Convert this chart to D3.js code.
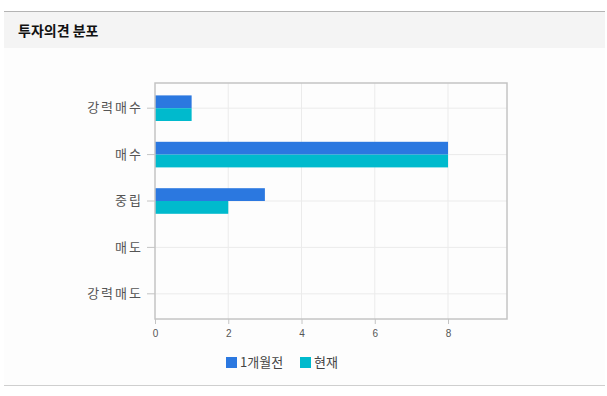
<!DOCTYPE html>
<html>
<head>
<meta charset="utf-8">
<script src="https://cdn.jsdelivr.net/npm/d3@7"></script>
<style>
  body { margin: 0; background: #fff; }
  svg { display: block; }
</style>
</head>
<body>
<script>
// data
var categories = ['강력매수', '매수', '중립', '매도', '강력매도']
var seriesNames = ['1개월전', '현재']
var monthAgo = [1, 8, 3, 0, 0]
var current = [1, 8, 2, 0, 0]
var xTicks = [0, 2, 4, 6, 8]

var blue = '#2b78e0'
var cyan = '#00bacd'
var gridColor = '#ebebeb'
var frameColor = '#c4c4c4'
var labelColor = '#555'

const svg = d3.select('body').append('svg')
    .attr('width', 607)
    .attr('height', 396)

// header box
svg.append('rect')
    .attr('x', 4).attr('y', 12)
    .attr('width', 601).attr('height', 36)
    .attr('fill', '#f4f4f4')
svg.append('rect')
    .attr('x', 4).attr('y', 48)
    .attr('width', 601).attr('height', 337)
    .attr('fill', '#fdfdfd')
svg.append('line')
    .attr('x1', 4).attr('x2', 605)
    .attr('y1', 11.5).attr('y2', 11.5)
    .attr('stroke', '#b4b4b4')
    .attr('stroke-width', 1)
svg.append('line')
    .attr('x1', 4).attr('x2', 605)
    .attr('y1', 385.5).attr('y2', 385.5)
    .attr('stroke', '#cfcfcf')
    .attr('stroke-width', 1)

svg.append('text')
    .attr('x', 18).attr('y', 36)
    .attr('font-family', '"Noto Sans CJK KR", sans-serif')
    .attr('font-weight', 'bold')
    .attr('font-size', 14)
    .attr('fill', '#111')
    .text('투자의견 분포')

// scales
var plotL = 155, plotR = 507, plotT = 83, plotB = 319
var x = d3.scaleLinear().domain([0, 9.61]).range([plotL, plotR])
var y = d3.scaleBand().domain(categories).range([85, 317])
var sub = d3.scaleBand().domain(seriesNames).range([-12.8, 12.8])

var chart = svg.append('g')

// vertical grid
chart.selectAll('.vgrid')
    .data(xTicks.slice(1))
    .enter().append('line')
    .attr('x1', d => x(d)).attr('x2', d => x(d))
    .attr('y1', plotT).attr('y2', plotB)
    .attr('stroke', gridColor)

// horizontal grid at category centers
chart.selectAll('.hgrid')
    .data(categories)
    .enter().append('line')
    .attr('x1', plotL).attr('x2', plotR)
    .attr('y1', d => y(d) + y.bandwidth() / 2)
    .attr('y2', d => y(d) + y.bandwidth() / 2)
    .attr('stroke', gridColor)

// bars
var series = [monthAgo, current]
var colors = [blue, cyan]
series.forEach(function (vals, s) {
    chart.selectAll('.bar' + s)
        .data(categories)
        .enter().append('rect')
        .attr('x', x(0))
        .attr('y', d => y(d) + y.bandwidth() / 2 + sub(seriesNames[s]))
        .attr('width', (d, i) => x(vals[i]) - x(0))
        .attr('height', sub.bandwidth())
        .attr('fill', colors[s])
})

// frame
chart.append('rect')
    .attr('x', plotL).attr('y', plotT)
    .attr('width', plotR - plotL).attr('height', plotB - plotT)
    .attr('fill', 'none')
    .attr('stroke', frameColor)
    .attr('stroke-width', 1.5)

// y axis
var yAxis = chart.append('g')
    .attr('transform', 'translate(' + plotL + ',0)')
    .call(d3.axisLeft(y).tickSize(8).tickPadding(4))
yAxis.select('.domain').remove()
yAxis.selectAll('line').attr('stroke', frameColor)
yAxis.selectAll('text')
    .attr('font-family', '"Noto Sans CJK KR", sans-serif')
    .attr('font-size', 13)
    .attr('letter-spacing', 2)
    .attr('fill', labelColor)

// x axis
var xAxis = chart.append('g')
    .attr('transform', 'translate(0,' + plotB + ')')
    .call(d3.axisBottom(x).tickValues(xTicks).tickSize(5).tickPadding(6))
xAxis.select('.domain').remove()
xAxis.selectAll('line').attr('stroke', frameColor)
xAxis.selectAll('text')
    .attr('font-family', 'Arial, "Liberation Sans", sans-serif')
    .attr('font-size', 10)
    .attr('fill', labelColor)

// legend
var legend = svg.append('g').attr('transform', 'translate(226,357)')
var legendX = [0, 74]
seriesNames.forEach(function (name, i) {
    legend.append('rect')
        .attr('x', legendX[i]).attr('y', 0)
        .attr('width', 11).attr('height', 11)
        .attr('fill', colors[i])
    legend.append('text')
        .attr('x', legendX[i] + 14).attr('y', 10)
        .attr('font-family', '"Noto Sans CJK KR", sans-serif')
        .attr('font-size', 13)
        .attr('fill', '#444')
        .text(name)
})
</script>
</body>
</html>
